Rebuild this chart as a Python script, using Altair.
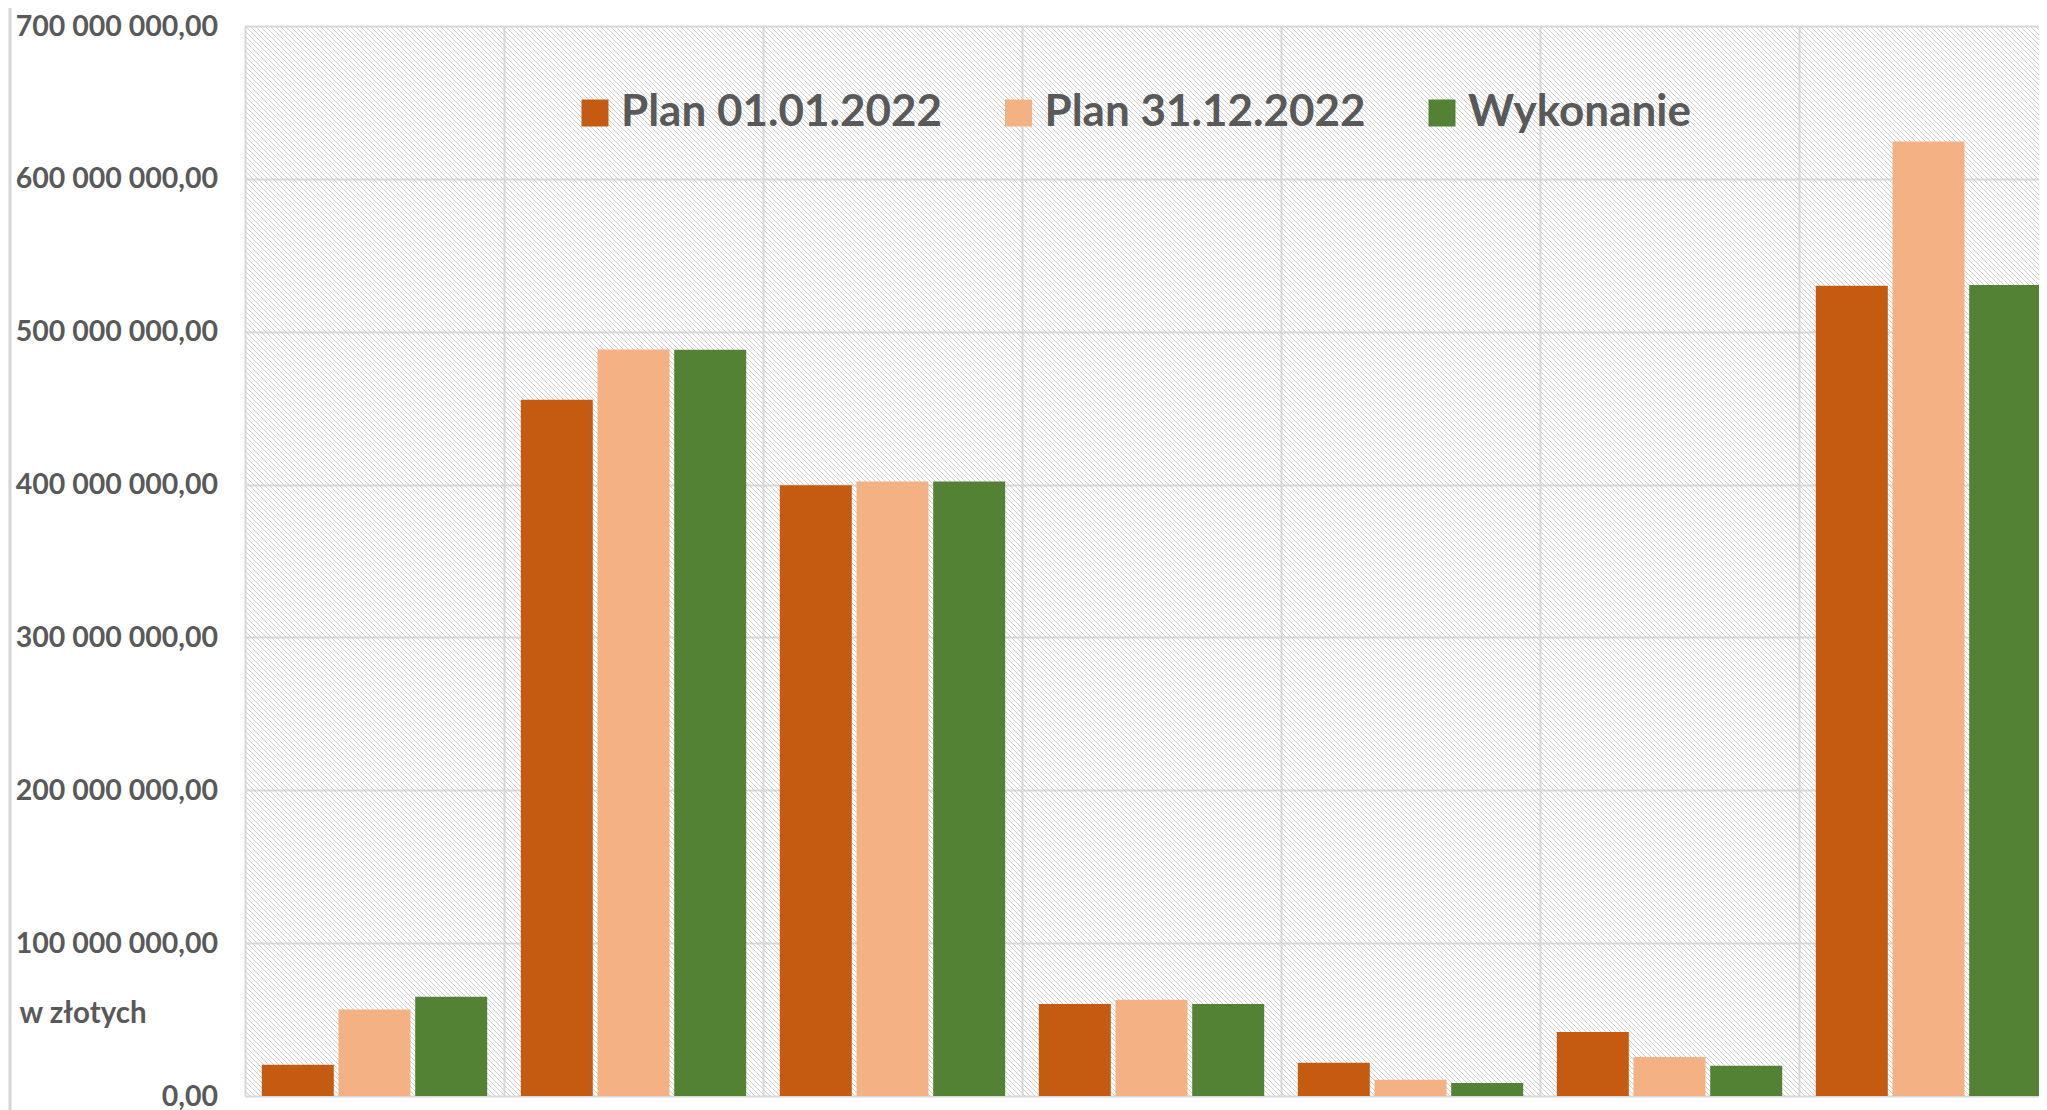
import altair as alt
import pandas as pd

# ---------------- data ----------------
categories = ["Kategoria 1", "Kategoria 2", "Kategoria 3", "Kategoria 4",
              "Kategoria 5", "Kategoria 6", "Kategoria 7"]
series = ["Plan 01.01.2022", "Plan 31.12.2022", "Wykonanie"]
plan_start = [20.5e6, 455.5e6, 399.6e6, 60.2e6, 21.8e6, 41.9e6, 530.0e6]
plan_end = [56.6e6, 488.3e6, 402.0e6, 63.0e6, 10.6e6, 25.5e6, 624.5e6]
wykonanie = [65.0e6, 488.2e6, 402.0e6, 60.2e6, 8.5e6, 19.8e6, 530.5e6]
y_ticks = [0, 100e6, 200e6, 300e6, 400e6, 500e6, 600e6, 700e6]
colors = ["#c55a11", "#f4b183", "#548235"]

rows = []
for vals, s in zip([plan_start, plan_end, wykonanie], series):
    for c, v in zip(categories, vals):
        rows.append({"kategoria": c, "seria": s, "wartosc": v})
df = pd.DataFrame(rows)

# ---------------- layout ----------------
W, H = 1794, 1070          # visible plot area (page is 2031 px wide inside margins)
FULL_W = 1813              # 7 groups; the last one runs past the page edge
GRID = "#d9d9d9"
TXT = "#595959"
FONT = "Lato"
P = 5                      # hatch spacing (horizontal, px)

# decorative diagonal hatch of the plot background: thin "\" lines
hatch = alt.Chart(alt.sequence(0, int((W + H) / P) + 2, as_="k")).transform_calculate(
    hx=f"datum.k * {P} - {H}", hx2=f"datum.k * {P}", hy="0", hy2=f"{H}"
).mark_rule(color="#cdcdcd", strokeWidth=1, clip=True).encode(
    x=alt.X("hx:Q", scale=alt.Scale(domain=[0, W], range=[0, W], nice=False, zero=False), axis=None),
    x2="hx2:Q",
    y=alt.Y("hy:Q", scale=alt.Scale(domain=[0, H], range=[0, H], nice=False, zero=False), axis=None),
    y2="hy2:Q",
)

one = alt.Data(values=[{}])
border = alt.Chart(one).mark_rule(color="#d4d4d4", strokeWidth=3).encode(
    x=alt.value(-235), y=alt.value(-18), y2=alt.value(H + 14)
)

label_expr = ("replace(replace(format(datum.value, ',.2f'), /,/g, ' '), '.', ',')")

bars = alt.Chart(df).mark_bar(clip=True).encode(
    x=alt.X("kategoria:N", sort=categories,
            scale=alt.Scale(paddingInner=0, paddingOuter=0, range=[0, FULL_W]),
            axis=alt.Axis(bandPosition=0, grid=True, gridColor=GRID, gridWidth=2,
                          labels=False, ticks=False, domain=False, title=None)),
    xOffset=alt.XOffset("seria:N", sort=series,
                        scale=alt.Scale(paddingInner=0.0613, paddingOuter=0.219)),
    y=alt.Y("wartosc:Q",
            scale=alt.Scale(domain=[0, 700e6], nice=False),
            axis=alt.Axis(values=y_ticks, labelExpr=label_expr,
                          labelFont=FONT, labelFontSize=28.5, labelFontWeight="bold",
                          labelColor=TXT, labelPadding=27.5, labelLimit=400,
                          ticks=False, tickSize=0, domain=False,
                          grid=True, gridColor=GRID, gridWidth=2,
                          title="w złotych", titleAngle=0, titleAlign="left",
                          titleBaseline="alphabetic", titleX=-226, titleY=996,
                          titleFont=FONT, titleFontSize=29.5, titleFontWeight="bold",
                          titleColor=TXT)),
    color=alt.Color("seria:N", sort=series,
                    scale=alt.Scale(domain=series, range=colors),
                    legend=alt.Legend(orient="none", legendX=328, legendY=65,
                                      direction="horizontal", title=None,
                                      symbolType="square", symbolSize=729,
                                      symbolStrokeWidth=0, symbolOpacity=1,
                                      labelFont=FONT, labelFontSize=44,
                                      labelFontWeight="bold", labelColor=TXT,
                                      labelOffset=4, columnPadding=53.5,
                                      labelLimit=1000, padding=0)),
)

chart = alt.layer(hatch, border, bars).resolve_scale(
    x="independent", y="independent"
).properties(
    width=W, height=H,
    padding={"left": 237, "top": 18, "right": 0, "bottom": 14},
    autosize=alt.AutoSizeParams(type="none"),
).configure_view(stroke=None, fill="white").configure(background="white")

chart.save("out.html", embed_options={"renderer": "svg", "actions": False})
